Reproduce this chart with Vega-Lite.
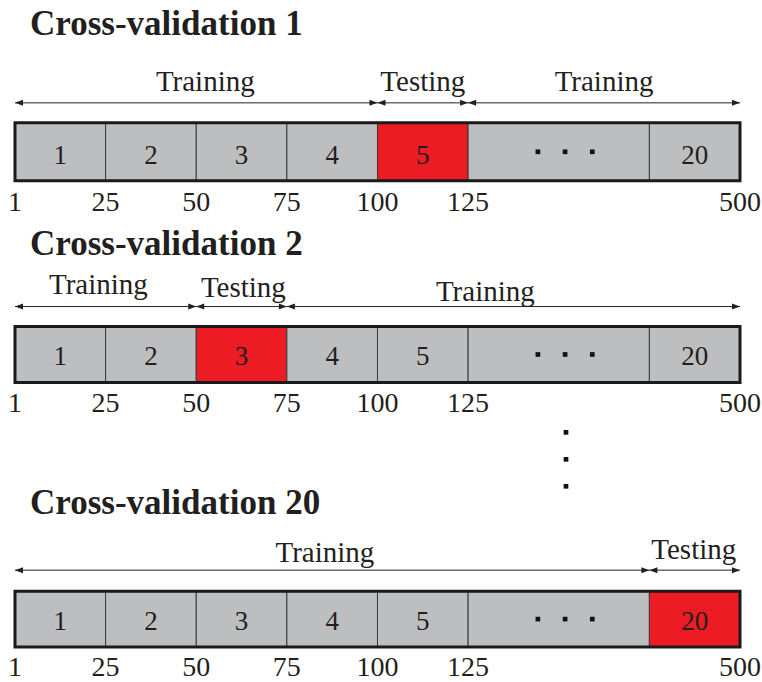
{
  "$schema": "https://vega.github.io/schema/vega-lite/v6.json",
  "width": 762,
  "height": 682,
  "autosize": {"type": "fit", "contains": "padding"},
  "padding": 0,
  "background": "white",
  "config": {"view": {"stroke": null}},
  "datasets": {
    "boxes": [
      {"row": 1, "x": 0, "x2": 1, "xm": 0.5, "label": "1", "test": false, "top": 123, "bottom": 181, "ly": 164},
      {"row": 1, "x": 1, "x2": 2, "xm": 1.5, "label": "2", "test": false, "top": 123, "bottom": 181, "ly": 164},
      {"row": 1, "x": 2, "x2": 3, "xm": 2.5, "label": "3", "test": false, "top": 123, "bottom": 181, "ly": 164},
      {"row": 1, "x": 3, "x2": 4, "xm": 3.5, "label": "4", "test": false, "top": 123, "bottom": 181, "ly": 164},
      {"row": 1, "x": 4, "x2": 5, "xm": 4.5, "label": "5", "test": true, "top": 123, "bottom": 181, "ly": 164},
      {"row": 1, "x": 5, "x2": 7, "xm": 6, "label": "", "test": false, "top": 123, "bottom": 181, "ly": 164},
      {"row": 1, "x": 7, "x2": 8, "xm": 7.5, "label": "20", "test": false, "top": 123, "bottom": 181, "ly": 164},
      {"row": 2, "x": 0, "x2": 1, "xm": 0.5, "label": "1", "test": false, "top": 327, "bottom": 383, "ly": 366},
      {"row": 2, "x": 1, "x2": 2, "xm": 1.5, "label": "2", "test": false, "top": 327, "bottom": 383, "ly": 366},
      {"row": 2, "x": 2, "x2": 3, "xm": 2.5, "label": "3", "test": true, "top": 327, "bottom": 383, "ly": 366},
      {"row": 2, "x": 3, "x2": 4, "xm": 3.5, "label": "4", "test": false, "top": 327, "bottom": 383, "ly": 366},
      {"row": 2, "x": 4, "x2": 5, "xm": 4.5, "label": "5", "test": false, "top": 327, "bottom": 383, "ly": 366},
      {"row": 2, "x": 5, "x2": 7, "xm": 6, "label": "", "test": false, "top": 327, "bottom": 383, "ly": 366},
      {"row": 2, "x": 7, "x2": 8, "xm": 7.5, "label": "20", "test": false, "top": 327, "bottom": 383, "ly": 366},
      {"row": 3, "x": 0, "x2": 1, "xm": 0.5, "label": "1", "test": false, "top": 592, "bottom": 648, "ly": 631},
      {"row": 3, "x": 1, "x2": 2, "xm": 1.5, "label": "2", "test": false, "top": 592, "bottom": 648, "ly": 631},
      {"row": 3, "x": 2, "x2": 3, "xm": 2.5, "label": "3", "test": false, "top": 592, "bottom": 648, "ly": 631},
      {"row": 3, "x": 3, "x2": 4, "xm": 3.5, "label": "4", "test": false, "top": 592, "bottom": 648, "ly": 631},
      {"row": 3, "x": 4, "x2": 5, "xm": 4.5, "label": "5", "test": false, "top": 592, "bottom": 648, "ly": 631},
      {"row": 3, "x": 5, "x2": 7, "xm": 6, "label": "", "test": false, "top": 592, "bottom": 648, "ly": 631},
      {"row": 3, "x": 7, "x2": 8, "xm": 7.5, "label": "20", "test": true, "top": 592, "bottom": 648, "ly": 631}
    ],
    "frames": [
      {"row": 1, "x": 0, "x2": 8, "top": 123, "bottom": 181},
      {"row": 2, "x": 0, "x2": 8, "top": 327, "bottom": 383},
      {"row": 3, "x": 0, "x2": 8, "top": 592, "bottom": 648}
    ],
    "dots": [
      {"x": 5.77, "y": 152}, {"x": 6.07, "y": 152}, {"x": 6.37, "y": 152},
      {"x": 5.77, "y": 355}, {"x": 6.07, "y": 355}, {"x": 6.37, "y": 355},
      {"x": 5.77, "y": 620}, {"x": 6.07, "y": 620}, {"x": 6.37, "y": 620},
      {"x": 6.08, "y": 433}, {"x": 6.08, "y": 460}, {"x": 6.08, "y": 487}
    ],
    "ticks": [
      {"row": 1, "x": 0, "label": "1", "y": 211},
      {"row": 1, "x": 1, "label": "25", "y": 211},
      {"row": 1, "x": 2, "label": "50", "y": 211},
      {"row": 1, "x": 3, "label": "75", "y": 211},
      {"row": 1, "x": 4, "label": "100", "y": 211},
      {"row": 1, "x": 5, "label": "125", "y": 211},
      {"row": 1, "x": 8, "label": "500", "y": 211},
      {"row": 2, "x": 0, "label": "1", "y": 413},
      {"row": 2, "x": 1, "label": "25", "y": 413},
      {"row": 2, "x": 2, "label": "50", "y": 413},
      {"row": 2, "x": 3, "label": "75", "y": 413},
      {"row": 2, "x": 4, "label": "100", "y": 413},
      {"row": 2, "x": 5, "label": "125", "y": 413},
      {"row": 2, "x": 8, "label": "500", "y": 413},
      {"row": 3, "x": 0, "label": "1", "y": 677},
      {"row": 3, "x": 1, "label": "25", "y": 677},
      {"row": 3, "x": 2, "label": "50", "y": 677},
      {"row": 3, "x": 3, "label": "75", "y": 677},
      {"row": 3, "x": 4, "label": "100", "y": 677},
      {"row": 3, "x": 5, "label": "125", "y": 677},
      {"row": 3, "x": 8, "label": "500", "y": 677}
    ],
    "arrows": [
      {"row": 1, "x": 0, "x2": 4, "y": 103},
      {"row": 1, "x": 4, "x2": 5, "y": 103},
      {"row": 1, "x": 5, "x2": 8, "y": 103},
      {"row": 2, "x": 0, "x2": 2, "y": 307},
      {"row": 2, "x": 2, "x2": 3, "y": 307},
      {"row": 2, "x": 3, "x2": 8, "y": 307},
      {"row": 3, "x": 0, "x2": 7, "y": 571},
      {"row": 3, "x": 7, "x2": 8, "y": 571}
    ],
    "phases": [
      {"row": 1, "x": 2.1, "label": "Training", "y": 91},
      {"row": 1, "x": 4.5, "label": "Testing", "y": 91},
      {"row": 1, "x": 6.5, "label": "Training", "y": 91},
      {"row": 2, "x": 0.92, "label": "Training", "y": 294},
      {"row": 2, "x": 2.52, "label": "Testing", "y": 297},
      {"row": 2, "x": 5.19, "label": "Training", "y": 301},
      {"row": 3, "x": 3.42, "label": "Training", "y": 563},
      {"row": 3, "x": 7.49, "label": "Testing", "y": 560}
    ],
    "titles": [
      {"row": 1, "x": 0.166, "label": "Cross-validation 1", "y": 35},
      {"row": 2, "x": 0.166, "label": "Cross-validation 2", "y": 255},
      {"row": 3, "x": 0.166, "label": "Cross-validation 20", "y": 515}
    ]
  },
  "layer": [
    {
      "data": {"name": "boxes"},
      "mark": {"type": "rect", "stroke": "#3a3a3a", "strokeWidth": 1},
      "encoding": {
        "x": {"field": "x", "type": "quantitative", "scale": {"domain": [-0.1655, 8.2428], "nice": false, "zero": false}, "axis": null},
        "x2": {"field": "x2"},
        "y": {"field": "top", "type": "quantitative", "scale": {"domain": [0, 682], "reverse": true, "nice": false, "zero": false}, "axis": null},
        "y2": {"field": "bottom"},
        "fill": {"field": "test", "type": "nominal", "scale": {"domain": [false, true], "range": ["#bcbec0", "#ed1c24"]}, "legend": null}
      }
    },
    {
      "data": {"name": "frames"},
      "mark": {"type": "rect", "fill": null, "fillOpacity": 0, "stroke": "#1a1a1a", "strokeWidth": 3},
      "encoding": {
        "x": {"field": "x", "type": "quantitative"},
        "x2": {"field": "x2"},
        "y": {"field": "top", "type": "quantitative"},
        "y2": {"field": "bottom"}
      }
    },
    {
      "data": {"name": "boxes"},
      "mark": {"type": "text", "font": "Liberation Serif", "fontSize": 27, "align": "center", "baseline": "alphabetic", "color": "#231f20"},
      "encoding": {
        "x": {"field": "xm", "type": "quantitative"},
        "y": {"field": "ly", "type": "quantitative"},
        "text": {"field": "label"}
      }
    },
    {
      "data": {"name": "dots"},
      "mark": {"type": "point", "shape": "square", "filled": true, "size": 22, "color": "#111111", "opacity": 1},
      "encoding": {
        "x": {"field": "x", "type": "quantitative"},
        "y": {"field": "y", "type": "quantitative"}
      }
    },
    {
      "data": {"name": "ticks"},
      "mark": {"type": "text", "font": "Liberation Serif", "fontSize": 28, "align": "center", "baseline": "alphabetic", "color": "#231f20"},
      "encoding": {
        "x": {"field": "x", "type": "quantitative"},
        "y": {"field": "y", "type": "quantitative"},
        "text": {"field": "label"}
      }
    },
    {
      "data": {"name": "arrows"},
      "mark": {"type": "rule", "color": "#231f20", "strokeWidth": 1},
      "encoding": {
        "x": {"field": "x", "type": "quantitative"},
        "x2": {"field": "x2"},
        "y": {"field": "y", "type": "quantitative"}
      }
    },
    {
      "data": {"name": "arrows"},
      "mark": {"type": "point", "shape": "M0,0L2,-0.75L2,0.75Z", "filled": true, "size": 64, "color": "#231f20", "opacity": 1, "strokeWidth": 0},
      "encoding": {
        "x": {"field": "x", "type": "quantitative"},
        "y": {"field": "y", "type": "quantitative"}
      }
    },
    {
      "data": {"name": "arrows"},
      "mark": {"type": "point", "shape": "M0,0L-2,-0.75L-2,0.75Z", "filled": true, "size": 64, "color": "#231f20", "opacity": 1, "strokeWidth": 0},
      "encoding": {
        "x": {"field": "x2", "type": "quantitative"},
        "y": {"field": "y", "type": "quantitative"}
      }
    },
    {
      "data": {"name": "phases"},
      "mark": {"type": "text", "font": "Liberation Serif", "fontSize": 29, "align": "center", "baseline": "alphabetic", "color": "#231f20"},
      "encoding": {
        "x": {"field": "x", "type": "quantitative"},
        "y": {"field": "y", "type": "quantitative"},
        "text": {"field": "label"}
      }
    },
    {
      "data": {"name": "titles"},
      "mark": {"type": "text", "font": "Liberation Serif", "fontSize": 35, "fontWeight": "bold", "align": "left", "baseline": "alphabetic", "color": "#231f20"},
      "encoding": {
        "x": {"field": "x", "type": "quantitative"},
        "y": {"field": "y", "type": "quantitative"},
        "text": {"field": "label"}
      }
    }
  ]
}
